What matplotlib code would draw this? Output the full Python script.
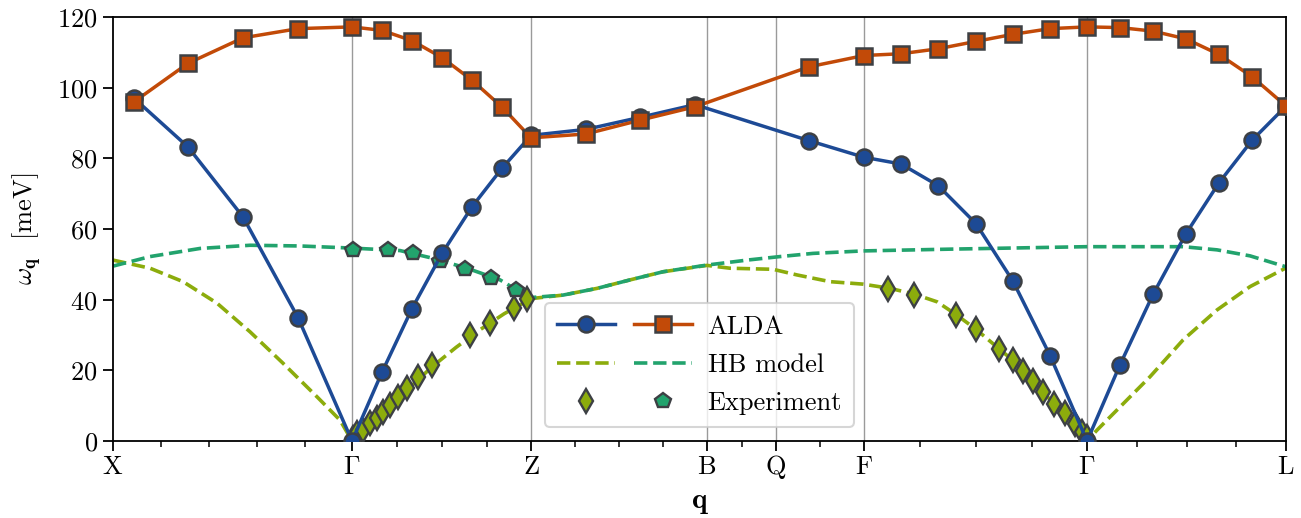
import matplotlib
matplotlib.use('Agg')
import matplotlib.pyplot as plt
from matplotlib.legend_handler import HandlerTuple
from matplotlib.ticker import FixedLocator

plt.rcParams['font.family'] = 'serif'
plt.rcParams['font.serif'] = ['cmr10']
plt.rcParams['mathtext.fontset'] = 'cm'
plt.rcParams['axes.unicode_minus'] = False
plt.rcParams['axes.formatter.use_mathtext'] = True

# ---- high-symmetry path ----
sym_x = [0, 239, 418, 594, 663, 751, 974, 1173]
sym_labels = [r'$\mathrm{X}$', r'$\Gamma$', r'$\mathrm{Z}$', r'$\mathrm{B}$',
              r'$\mathrm{Q}$', r'$\mathrm{F}$', r'$\Gamma$', r'$\mathrm{L}$']
minor_x = [48, 96, 144, 192, 284, 329, 374, 462, 506, 550, 629, 707,
           807, 863, 919, 1024, 1074, 1123]

# ---- ALDA ----
alda_x = [21, 75, 130, 185, 239, 269, 299, 329, 359, 389, 418, 473, 527, 582,
          696, 751, 788, 825, 863, 900, 937, 974, 1007, 1040, 1073, 1106, 1139, 1173]
alda_blue = [97.0, 83.2, 63.4, 34.9, 0.0, 19.5, 37.5, 53.1, 66.3, 77.2, 86.5,
             88.2, 91.6, 95.2, 85.0, 80.3, 78.4, 72.3, 61.5, 45.2, 24.2, 0.0,
             21.6, 41.5, 58.7, 73.1, 85.1, 94.8]
alda_orange = [96.0, 106.9, 114.1, 116.7, 117.2, 116.2, 113.3, 108.5, 102.1, 94.5,
               85.8, 86.9, 90.8, 94.6, 105.9, 109.1, 109.6, 111.0, 113.1, 115.1,
               116.7, 117.2, 117.0, 116.0, 113.8, 109.4, 103.1, 94.8]

# ---- HB model ----
hb_low_x = [0, 37, 70, 104, 137, 170, 204, 227, 239, 277, 319, 343, 367, 391, 418,
            450, 484, 517, 550, 594, 617, 660, 684, 717, 750, 777, 801, 824, 843,
            863, 886, 900, 920, 941, 962, 974, 984, 1004, 1037, 1070, 1104, 1137, 1173]
hb_low_y = [51.2, 48.9, 45.1, 39.0, 30.9, 22.0, 12.5, 5.9, 0.0, 10.0, 21.0, 26.5,
            31.5, 36.0, 40.3, 41.3, 43.2, 45.6, 47.9, 49.7, 48.9, 48.6, 47.0, 45.1,
            44.4, 43.2, 41.6, 39.4, 35.8, 31.6, 26.1, 22.8, 16.9, 10.5, 4.0, 0.0,
            3.1, 8.8, 18.2, 28.6, 37.1, 43.7, 49.0]
hb_up_x = [0, 37, 87, 137, 187, 239, 287, 320, 354, 387, 404, 418, 450, 484, 517,
           550, 594, 634, 667, 700, 750, 837, 974, 1070, 1104, 1137, 1173]
hb_up_y = [49.5, 52.2, 54.5, 55.4, 55.2, 54.6, 53.9, 51.7, 48.9, 45.6, 42.7, 40.6,
           41.3, 43.2, 45.6, 47.9, 49.8, 51.2, 52.2, 53.1, 53.8, 54.3, 55.0, 55.0,
           54.1, 52.4, 49.3]

# ---- Experiment ----
exp_d_x = [240, 244, 250, 257, 264, 270, 277, 285, 294, 305, 319, 357,
           377, 401, 414,
           775, 801, 843, 863, 886, 900, 910, 920, 930, 941, 952, 962, 969, 974]
exp_d_y = [0.8, 2.2, 3.1, 5.0, 6.4, 8.3, 10.2, 12.5, 14.9, 18.2, 21.5,
           30.0, 33.3, 37.6, 40.1,
           43.1, 41.3, 35.6, 31.6, 26.1, 22.8, 19.8, 16.9, 13.8, 10.5, 7.8, 4.8,
           2.6, 1.0]
exp_p_x = [240, 275, 300, 327, 352, 378, 403]
exp_p_y = [54.0, 54.1, 53.1, 51.0, 48.8, 46.0, 42.7]

c_blue = '#1d4a95'
c_orange = '#c24a08'
c_teal = '#22a36d'
c_olive = '#8cac0c'
c_edge = '#3d4044'

fig = plt.figure(figsize=(13.01, 5.18), dpi=100)
ax = fig.add_axes([0.0869, 0.1486, 0.9016, 0.8186])

for xv in sym_x[1:-1]:
    ax.axvline(xv, color='#9a9a9a', lw=1.0, zorder=0.5)

l_low, = ax.plot(hb_low_x, hb_low_y, '--', color=c_olive, lw=2.6, zorder=2)
l_up, = ax.plot(hb_up_x, hb_up_y, '--', color=c_teal, lw=2.6, zorder=2.1)

m_d, = ax.plot(exp_d_x, exp_d_y, 'd', ls='none', ms=12.5, mfc=c_olive, mec=c_edge,
               mew=1.7, zorder=3)
m_p, = ax.plot(exp_p_x, exp_p_y, 'p', ls='none', ms=11.5, mfc=c_teal, mec=c_edge,
               mew=1.7, zorder=3)

l_blue, = ax.plot(alda_x, alda_blue, '-o', color=c_blue, lw=2.5, ms=11.5,
                  mfc=c_blue, mec=c_edge, mew=1.8, zorder=4)
l_orange, = ax.plot(alda_x, alda_orange, '-s', color=c_orange, lw=2.5, ms=11.5,
                    mfc=c_orange, mec=c_edge, mew=1.8, zorder=5)

ax.set_xlim(sym_x[0], sym_x[-1])
ax.set_ylim(0, 120)
ax.set_xticks(sym_x)
ax.set_xticklabels(sym_labels)
ax.xaxis.set_minor_locator(FixedLocator(minor_x))
ax.set_yticks([0, 20, 40, 60, 80, 100, 120])

ax.tick_params(axis='both', which='major', labelsize=19, length=7, width=1.3,
               direction='out', pad=4)
ax.tick_params(axis='x', which='major', pad=17.0)
ax.tick_params(axis='x', which='minor', length=4.3, width=1.1, direction='out')
for lab in ax.get_xticklabels():
    lab.set_verticalalignment('baseline')
for sp in ax.spines.values():
    sp.set_linewidth(1.3)

ax.set_xlabel(r'$\mathbf{q}$', fontsize=21, labelpad=6)
ax.set_ylabel(r'$\omega_{\mathbf{q}}$  [meV]', fontsize=19, labelpad=10)

leg = ax.legend([(l_blue, l_orange), (l_low, l_up), (m_d, m_p)],
                ['ALDA', 'HB model', 'Experiment'],
                handler_map={tuple: HandlerTuple(ndivide=None, pad=0.7)},
                loc='lower center', bbox_to_anchor=(0.5, 0.033), borderaxespad=0,
                fontsize=19, handlelength=5.1, handletextpad=0.6, labelspacing=0.55,
                borderpad=0.45, framealpha=0.8, edgecolor='#cccccc', fancybox=True)
leg.get_frame().set_linewidth(1.5)

fig.savefig('out.png', dpi=100)
